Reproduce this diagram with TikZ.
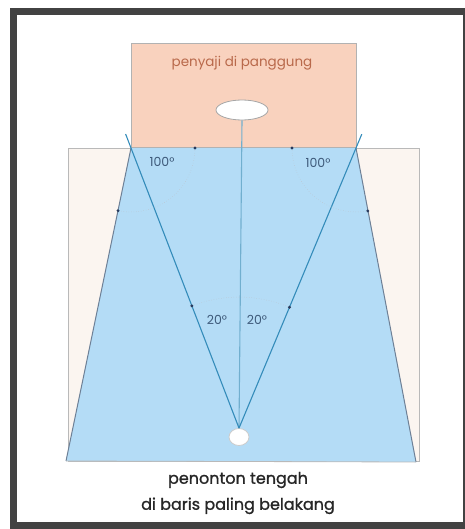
\documentclass[tikz,border=0pt]{standalone}
\usepackage{fontspec}
\setmainfont{Poppins}
\newfontfamily\captionfont[FakeBold=1.2]{Poppins}
\usetikzlibrary{calc,shapes.geometric}
\definecolor{framegray}{RGB}{66,66,66}
\definecolor{hallbeige}{RGB}{251,245,240}
\definecolor{stagepink}{RGB}{249,210,190}
\definecolor{stagetext}{RGB}{185,105,75}
\definecolor{seablue}{RGB}{180,220,246}
\definecolor{sightblue}{RGB}{52,140,186}
\definecolor{edgegray}{RGB}{110,128,150}
\definecolor{labelblue}{RGB}{62,90,122}
\definecolor{dotnavy}{RGB}{40,58,92}
\tikzset{
  hallline/.style={draw=gray!55,line width=0.8pt},
  edgeline/.style={draw=edgegray,line width=1pt},
  sightline/.style={draw=sightblue,line width=1.1pt},
  arcline/.style={draw=labelblue!35,dotted,line width=0.5pt},
  dotmark/.style={fill=dotnavy},
  anglelabel/.style={text=labelblue,font=\fontsize{12.5}{14}\selectfont},
}
\begin{document}
\begin{tikzpicture}[x=1pt,y=-1pt]
\useasboundingbox (0,0) rectangle (464,529);
\draw[line width=7pt,framegray] (13,12) rectangle (466,525);

\draw[hallline,fill=hallbeige] (68,148) rectangle (419,461);
\coordinate (tl) at (131,148);
\coordinate (tr) at (356,148);
\coordinate (bl) at (66,461);
\coordinate (br) at (416,462);
\fill[seablue] (tl) -- (tr) -- (br) -- (bl) -- cycle;
\draw[edgeline] (tl) -- (bl);
\draw[edgeline] (tr) -- (br);
\draw[hallline] (bl) -- (br);

\draw[draw=gray!60,line width=0.8pt,fill=stagepink] (131,43) rectangle (356,147);
\node[text=stagetext,font=\fontsize{13.5}{15}\selectfont] (judul) at (242,63) {penyaji di panggung};
\node[ellipse,draw=gray!70,fill=white,line width=0.8pt,minimum width=52pt,minimum height=20pt,inner sep=0pt] (penyaji) at (242,110) {};
\node[ellipse,draw=gray!40,fill=white,line width=0.8pt,minimum width=20pt,minimum height=17pt,inner sep=0pt] (penonton) at (239,437) {};
\coordinate (mata) at (penonton.north);

\draw[sightline,draw=sightblue!70] (penyaji.south) -- (mata);
\draw[sightline,shorten >=-15pt] (mata) -- (tl);
\draw[sightline,shorten >=-15pt] (mata) -- (tr);

\draw[arcline] ($(tl)+(0:64)$) arc[start angle=0,end angle=101.7,radius=64];
\draw[arcline] ($(tr)+(180:64)$) arc[start angle=180,end angle=79.4,radius=64];
\draw[arcline] ($(mata)+(270:131)$) arc[start angle=270,end angle=248.9,radius=131];
\draw[arcline] ($(mata)+(270:131)$) arc[start angle=270,end angle=292.7,radius=131];
\fill[dotmark] ($(tl)+(0:64)$) circle (1.6);
\fill[dotmark] ($(tl)+(101.7:64)$) circle (1.6);
\fill[dotmark] ($(tr)+(180:64)$) circle (1.6);
\fill[dotmark] ($(tr)+(79.4:64)$) circle (1.6);
\fill[dotmark] ($(mata)+(248.9:131)$) circle (1.6);
\fill[dotmark] ($(mata)+(292.7:131)$) circle (1.6);

\node[anglelabel] (sudutkiri) at (162,162) {100°};
\node[anglelabel] (sudutkanan) at (318,163) {100°};
\node[anglelabel] (pandangkiri) at (217,320) {20°};
\node[anglelabel] (pandangkanan) at (257,320) {20°};

\node[text=black!85,font=\captionfont\fontsize{16}{26}\selectfont,align=center] (keterangan) at (238,493) {penonton tengah\\di baris paling belakang};
\end{tikzpicture}
\end{document}
